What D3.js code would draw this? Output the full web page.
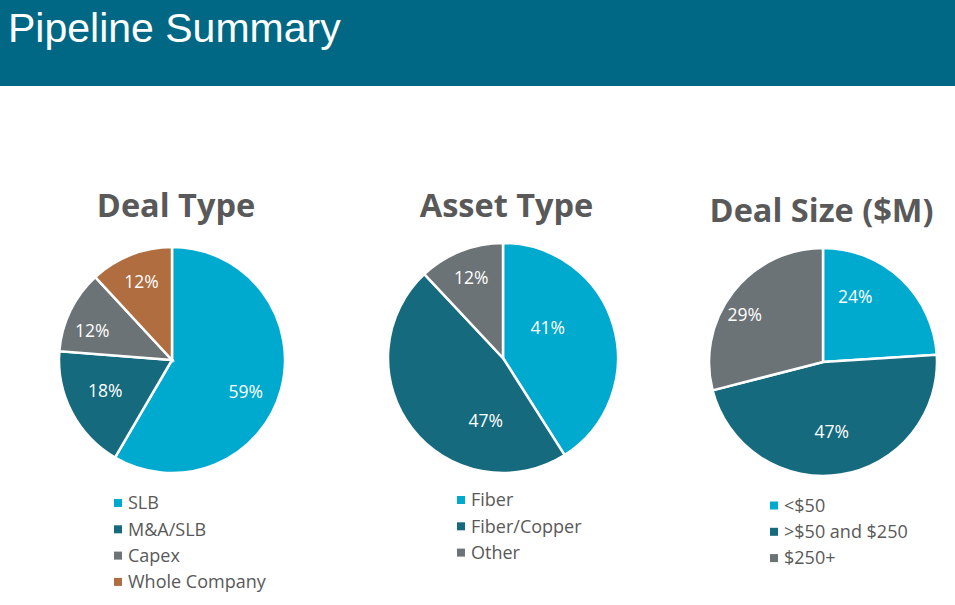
<html lang="en">
  <head>
    <meta charset="UTF-8" />
    <title>Pipeline Summary</title>
    <script src="https://d3js.org/d3.v7.min.js"></script>
    <style>
      body { margin: 0; background: #fff; }
    </style>
  </head>
  <body>
    <svg></svg>
    <script>
      var width = 955;
      var height = 605;

      // data
      var dealTypeLabels = ["SLB", "M&A/SLB", "Capex", "Whole Company"];
      var dealTypeValues = [59, 18, 12, 12];
      var assetTypeLabels = ["Fiber", "Fiber/Copper", "Other"];
      var assetTypeValues = [41, 47, 12];
      var dealSizeLabels = ["<$50", ">$50 and $250", "$250+"];
      var dealSizeValues = [24, 47, 29];

      var colors = ["#00A9CE", "#166A7E", "#6C7376", "#AF6D40"];

      // layout: label radius (fraction of r) and angle nudge (deg) per slice, like excel best fit
      var charts = [
        { title: "Deal Type", labels: dealTypeLabels, values: dealTypeValues,
          cx: 172, cy: 360, r: 113, titleX: 176, titleY: 217, legX: 114, legY: 503,
          labR: [0.71, 0.65, 0.75, 0.74], labA: [8, 3, -6, 0] },
        { title: "Asset Type", labels: assetTypeLabels, values: assetTypeValues,
          cx: 503, cy: 358, r: 115, titleX: 506.5, titleY: 217, legX: 457, legY: 500,
          labR: [0.47, 0.57, 0.75], labA: [-18, -37, 0] },
        { title: "Deal Size ($M)", labels: dealSizeLabels, values: dealSizeValues,
          cx: 823, cy: 362, r: 114, titleX: 821.5, titleY: 222, legX: 770, legY: 505.5,
          labR: [0.64, 0.62, 0.8], labA: [-17, 2, -7] }
      ];

      var svg = d3.select("svg").attr("width", width).attr("height", height);

      // header band
      svg.append("rect")
        .attr("x", 0).attr("y", 0)
        .attr("width", width).attr("height", 86)
        .style("fill", "#006884");

      svg.append("text")
        .attr("x", 8).attr("y", 42)
        .style("font-family", "'Liberation Sans', Arial, sans-serif")
        .style("font-size", "41px")
        .style("fill", "#fff")
        .text("Pipeline Summary");

      var pie = d3.pie().sort(null);

      charts.forEach(function (c) {
        var g = svg.append("g")
          .attr("transform", `translate(${c.cx}, ${c.cy})`);

        var arc = d3.arc().innerRadius(0).outerRadius(c.r);
        var arcs = pie(c.values);

        g.selectAll("path")
          .data(arcs)
          .join("path")
          .attr("d", arc)
          .style("fill", (d, i) => colors[i])
          .style("stroke", "#fff")
          .style("stroke-width", 2.5);

        g.selectAll("text")
          .data(arcs)
          .join("text")
          .attr("transform", function (d, i) {
            var rr = c.r * c.labR[i];
            var nudge = (c.labA[i] * Math.PI) / 180;
            var lab = d3.arc().innerRadius(rr).outerRadius(rr);
            return `translate(${lab.centroid({
              startAngle: d.startAngle + nudge,
              endAngle: d.endAngle + nudge
            })})`;
          })
          .attr("text-anchor", "middle")
          .attr("dy", "0.35em")
          .style("font-family", "'Open Sans', sans-serif")
          .style("font-size", "17.5px")
          .style("fill", "#fff")
          .text((d) => d.data + "%");

        // title
        svg.append("text")
          .attr("x", c.titleX)
          .attr("y", c.titleY)
          .attr("text-anchor", "middle")
          .style("font-family", "'Open Sans', sans-serif")
          .style("font-weight", "bold")
          .style("font-size", "32.5px")
          .style("fill", "#595959")
          .text(c.title);

        // legend
        var leg = svg.append("g")
          .attr("transform", `translate(${c.legX}, ${c.legY})`);

        var rows = leg.selectAll("g")
          .data(c.labels)
          .join("g")
          .attr("transform", (d, i) => `translate(0, ${i * 26.3})`);

        rows.append("rect")
          .attr("x", 0).attr("y", -4)
          .attr("width", 8).attr("height", 8)
          .style("fill", (d, i) => colors[i]);

        rows.append("text")
          .attr("x", 14)
          .attr("dy", "0.35em")
          .style("font-family", "'Open Sans', sans-serif")
          .style("font-size", "18px")
          .style("fill", "#595959")
          .text((d) => d);
      });
    </script>
  </body>
</html>
